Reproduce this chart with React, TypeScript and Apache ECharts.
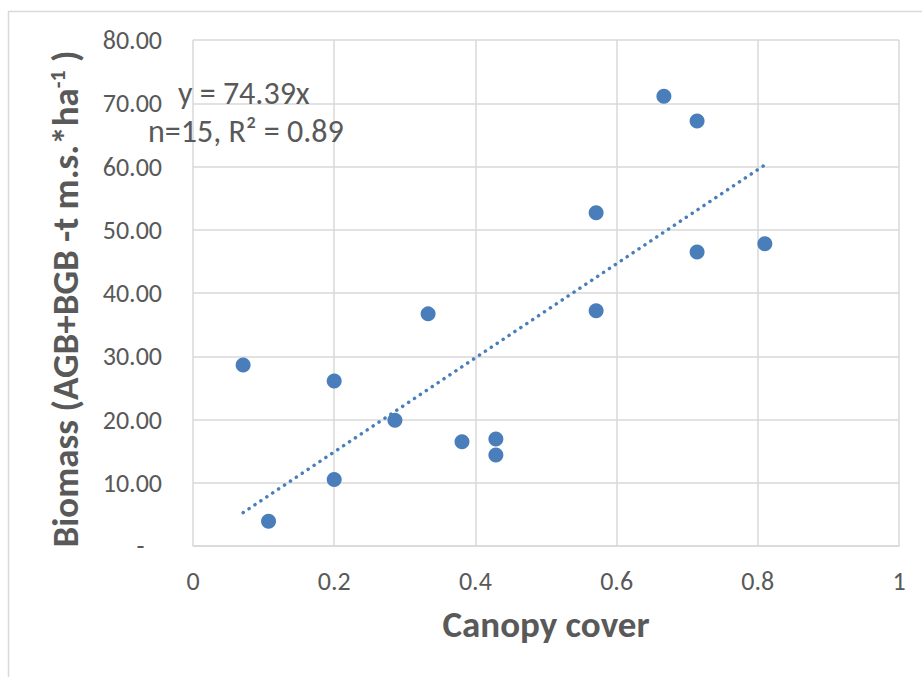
import React, { useEffect, useRef } from "react";
import * as echarts from "echarts";

const canopyCover = [0.071, 0.107, 0.2, 0.2, 0.286, 0.333, 0.381, 0.429, 0.429, 0.571, 0.571, 0.667, 0.714, 0.714, 0.81];
const biomass = [28.6, 3.9, 26.1, 10.5, 19.9, 36.7, 16.5, 16.9, 14.4, 52.7, 37.2, 71.1, 67.2, 46.5, 47.8];
const slope = 74.39;
const trendX = [0.071, 0.81];
const equationText = "y = 74.39x";
const statsText = "n=15, R\u00b2 = 0.89";

const FONT = "Carlito, Lato, 'Open Sans', sans-serif";
const GREY = "#595959";
const BLUE = "#4a7ebb";

export default function App() {
  const ref = useRef<HTMLDivElement>(null);
  useEffect(() => {
    const chart = echarts.init(ref.current!, null, { renderer: "svg" });
    const points = canopyCover.map((x, i) => [x, biomass[i]]);
    const trend = trendX.map((x) => [x, slope * x]);
    chart.setOption({
      animation: false,
      backgroundColor: "#ffffff",
      textStyle: { fontFamily: FONT },
      grid: { left: 193, top: 40, right: 23, bottom: 131 },
      xAxis: {
        type: "value",
        min: 0,
        max: 1,
        interval: 0.2,
        name: "Canopy cover",
        nameLocation: "middle",
        nameGap: 60,
        nameTextStyle: { fontSize: 37, fontWeight: "bold", color: GREY, fontFamily: FONT },
        axisLine: { show: true, lineStyle: { color: "#d9d9d9", width: 1.5 } },
        axisTick: { show: false },
        axisLabel: { fontSize: 26, color: GREY, margin: 22, fontFamily: FONT },
        splitLine: { show: true, lineStyle: { color: "#d9d9d9", width: 1.5 } },
      },
      yAxis: {
        type: "value",
        min: 0,
        max: 80,
        interval: 10,
        name: "{t|Biomass (AGB+BGB -t m.s.*ha}{s|-1}{e| )}",
        nameLocation: "middle",
        nameGap: 109,
        nameRotate: 90,
        nameTextStyle: {
          color: GREY,
          rich: {
            t: { fontSize: 37, fontWeight: "bold", color: GREY, fontFamily: FONT },
            e: { fontSize: 37, fontWeight: "bold", color: GREY, fontFamily: FONT, padding: [0, 12, 0, 0] },
            s: { fontSize: 22, fontWeight: "bold", color: GREY, fontFamily: FONT, verticalAlign: "top", padding: [0, 0, 16, 0] },
          },
        },
        axisLine: { show: false },
        axisTick: { show: false },
        axisLabel: {
          fontSize: 26,
          color: GREY,
          margin: 31,
          fontFamily: FONT,
          formatter: (v: number) => (v === 0 ? "-   " : v.toFixed(2)),
        },
        splitLine: { show: true, lineStyle: { color: "#d9d9d9", width: 1.5 } },
      },
      graphic: [
        {
          type: "rect",
          shape: { x: 8.5, y: 11.5, width: 2000, height: 2000 },
          style: { fill: "none", stroke: "#d9d9d9", lineWidth: 1.5 },
          silent: true,
          z: -10,
        },
        {
          type: "text",
          x: 178,
          y: 93,
          style: { text: equationText, fontSize: 32, fontFamily: FONT, fill: GREY, textVerticalAlign: "middle" },
          z: 100,
        },
        {
          type: "text",
          x: 148,
          y: 131,
          style: { text: statsText, fontSize: 32, fontFamily: FONT, fill: GREY, textVerticalAlign: "middle" },
          z: 100,
        },
      ],
      series: [
        {
          type: "line",
          data: trend,
          symbol: "none",
          lineStyle: { color: BLUE, width: 3.5, type: [0.1, 7], cap: "round" },
          z: 2,
        },
        {
          type: "scatter",
          data: points,
          symbol: "circle",
          symbolSize: 15,
          itemStyle: { color: BLUE, opacity: 1 },
          z: 3,
        },
      ],
    });
    return () => chart.dispose();
  }, []);
  return <div ref={ref} style={{ position: "absolute", left: 0, top: 0, width: 922, height: 677 }} />;
}
